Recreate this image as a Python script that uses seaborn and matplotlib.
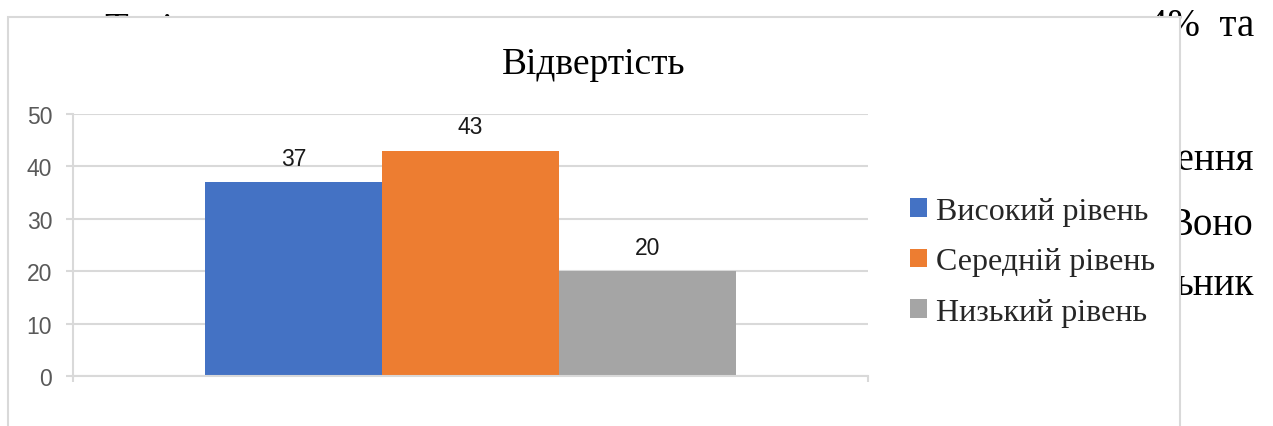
import seaborn as sns
import matplotlib.pyplot as plt
import pandas as pd
from matplotlib.patches import Rectangle

# Chart data
levels = ['Високий рівень', 'Середній рівень', 'Низький рівень']
values = [37, 43, 20]
colors = ['#4472C4', '#ED7D31', '#A5A5A5']
title = 'Відвертість'
y_ticks = [0, 10, 20, 30, 40, 50]

df = pd.DataFrame({'group': ['Відвертість'] * 3, 'level': levels, 'value': values})

W, H = 1273, 427
sns.set_style('white')
plt.rcParams['font.family'] = ['Liberation Sans', 'DejaVu Sans']

fig = plt.figure(figsize=(W / 100, H / 100), dpi=100)

# Document text visible behind the chart box
serif = ['Liberation Serif', 'DejaVu Serif']
doc_lines = [('4%  та', 36), ('значення', 170), ('Воно', 235), ('ьник', 295)]
for txt, base in doc_lines:
    fig.text(1254 / W, 1 - base / H, txt, ha='right', va='baseline',
             fontsize=28, family=serif, color='black', zorder=-3)
fig.text(104 / W, 1 - 40 / H, 'Т', ha='left', va='baseline', fontsize=28,
         family=serif, color='black', zorder=-3)
fig.text(161 / W, 1 - 40 / H, 'і', ha='left', va='baseline', fontsize=28,
         family=serif, color='black', zorder=-3)

# White chart box with light border
box = Rectangle((8 / W, -0.1), (1180 - 8) / W, (H - 18) / H + 0.1,
                transform=fig.transFigure, facecolor='white',
                edgecolor='#D9D9D9', linewidth=1.5, zorder=-1)
fig.patches.append(box)

ax = fig.add_axes([73 / W, 1 - 377 / H, (868 - 73) / W, (377 - 115) / H])
ax.patch.set_alpha(0)

sns.barplot(data=df, x='group', y='value', hue='level', palette=colors,
            width=0.668, saturation=1, ax=ax, edgecolor='none', linewidth=0)

ax.set_xlim(-0.5, 0.5)
ax.set_ylim(0, 50)
ax.set_yticks(y_ticks)
ax.set_xticks([-0.5, 0.5])
ax.set_xticklabels(['', ''])
ax.set_xlabel('')
ax.set_ylabel('')
ax.yaxis.grid(True, color='#D9D9D9', linewidth=1.5)
ax.set_axisbelow(True)

for side in ['top', 'right']:
    ax.spines[side].set_visible(False)
for side in ['left', 'bottom']:
    ax.spines[side].set_color('#D9D9D9')
    ax.spines[side].set_linewidth(1.5)

ax.tick_params(axis='y', left=True, length=5, width=1.5, color='#D9D9D9',
               pad=10, labelsize=16.5, labelcolor='#595959')
ax.tick_params(axis='x', bottom=True, length=4.5, width=1.5, color='#D9D9D9')

for cont in ax.containers:
    ax.bar_label(cont, fmt='%g', padding=9, fontsize=16.5, color='#1a1a1a')

handles, labels = ax.get_legend_handles_labels()
ax.get_legend().remove()
fig.legend(handles, labels, loc='center left',
           bbox_to_anchor=(910 / W, 1 - 263 / H), frameon=False,
           prop={'family': serif, 'size': 23}, handlelength=0.52,
           handleheight=0.52, handletextpad=0.28, labelspacing=0.67,
           borderpad=0, borderaxespad=0)

fig.text(594 / W, 1 - 74 / H, title, ha='center', va='baseline',
         fontsize=27, family=serif, color='black')

fig.savefig('out.png', dpi=100)
